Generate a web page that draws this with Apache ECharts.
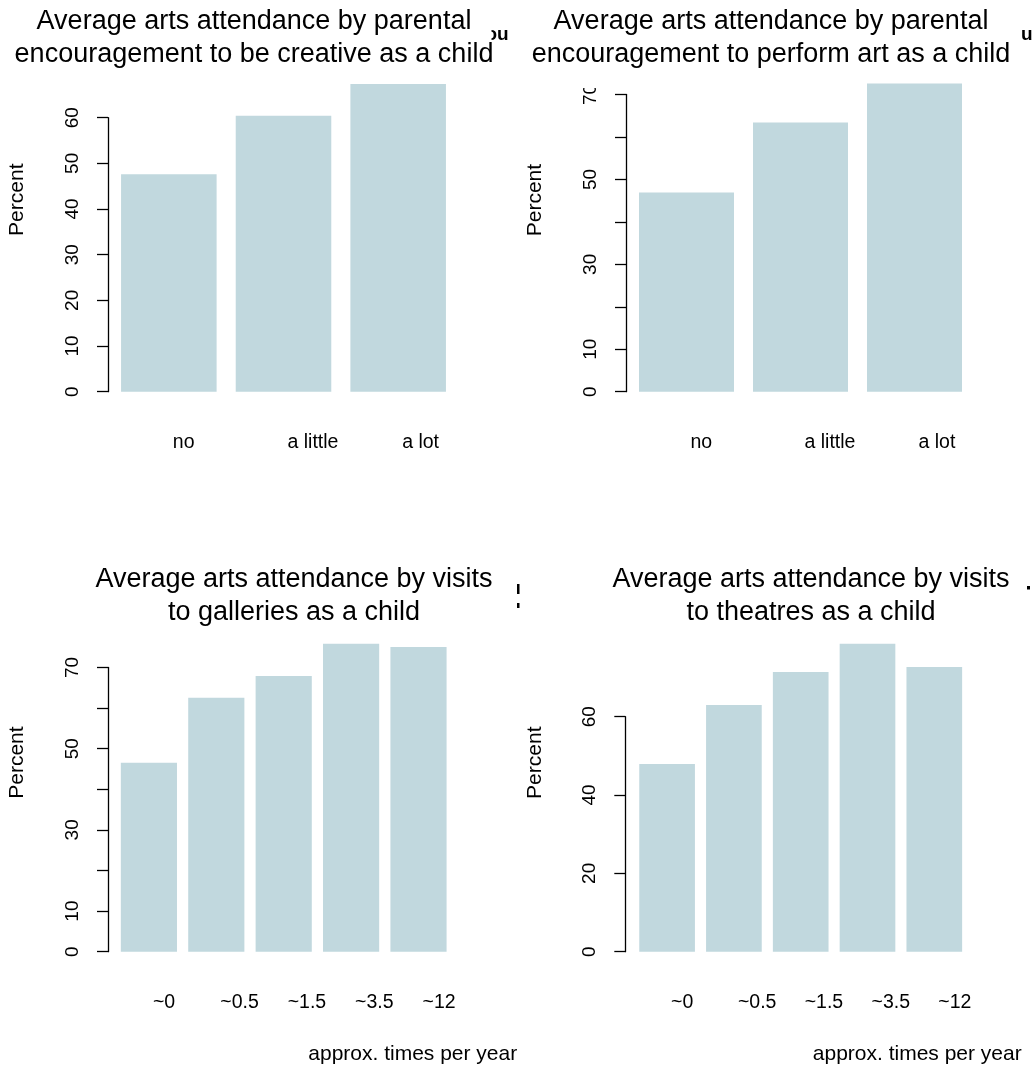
<!DOCTYPE html>
<html>
<head>
<meta charset="utf-8">
<title>Average arts attendance</title>
<script src="https://cdn.jsdelivr.net/npm/echarts@6.0.0/dist/echarts.min.js"></script>
<style>
  html, body { margin: 0; padding: 0; background: #fff; }
  #chart { width: 1035px; height: 1070px; }
</style>
</head>
<body>
<div id="chart"></div>
<script>
// categories
const encouragementCategories = ['no', 'a little', 'a lot'];
const visitCategories = ['~0', '~0.5', '~1.5', '~3.5', '~12'];

// percent attending
const creativeValues = [47.6, 60.4, 67.4];
const performValues = [46.9, 63.4, 72.6];
const galleryValues = [46.5, 62.5, 67.9, 75.8, 75.0];
const theatreValues = [47.9, 63.0, 71.4, 78.6, 72.7];

// y tick labels that are actually printed (R drops the crowded ones)
const creativeTickLabels = [0, 10, 20, 30, 40, 50, 60];
const performTickLabels = [0, 10, 30, 50, 70];
const galleryTickLabels = [0, 10, 30, 50, 70];
const theatreTickLabels = [0, 20, 40, 60];

const titleTexts = [
  'Average arts attendance by parental\nencouragement to be creative as a child',
  'Average arts attendance by parental\nencouragement to perform art as a child',
  'Average arts attendance by visits\nto galleries as a child',
  'Average arts attendance by visits\nto theatres as a child'
];
const xAxisTitle = 'approx. times per year';

const FONT = "'Liberation Sans', Arial, Helvetica, sans-serif";
const BAR_COLOR = '#c1d8de';

const panels = [
  { cats: encouragementCategories, values: creativeValues, ticks: creativeTickLabels, step: 10,
    grid: { left: 111.5, top: 117.7, width: 344, height: 274 }, offset: 3.5,
    titleX: 254, titleTop: 5, nameShift: 55, xName: '' },
  { cats: encouragementCategories, values: performValues, ticks: performTickLabels, step: 10,
    grid: { left: 629.5, top: 94.5, width: 342, height: 297.2 }, offset: 3.5,
    titleX: 771, titleTop: 5, nameShift: 43, xName: '' },
  { cats: visitCategories, values: galleryValues, ticks: galleryTickLabels, step: 10,
    grid: { left: 115.2, top: 667.4, width: 337, height: 284.3 }, offset: 7.2,
    titleX: 294, titleTop: 563, nameShift: 47, xName: xAxisTitle, xNameGap: 65 },
  { cats: visitCategories, values: theatreValues, ticks: theatreTickLabels, step: 20,
    grid: { left: 633.7, top: 716.7, width: 334, height: 235 }, offset: 8.4,
    titleX: 811, titleTop: 563, nameShift: 71.5, xName: xAxisTitle, xNameGap: 54 }
];

const chart = echarts.init(document.getElementById('chart'), null, { renderer: 'canvas' });

const option = {
  animation: false,
  backgroundColor: '#fff',
  textStyle: { fontFamily: FONT, color: '#000' },
  title: panels.map((p, i) => ({
    text: titleTexts[i],
    left: p.titleX,
    top: p.titleTop,
    padding: 0,
    textAlign: 'center',
    textStyle: { fontFamily: FONT, fontSize: 27, lineHeight: 33, fontWeight: 'normal', color: '#000' }
  })),
  grid: panels.map(p => ({
    left: p.grid.left, top: p.grid.top, width: p.grid.width, height: p.grid.height,
    containLabel: false, outerBoundsMode: 'none'
  })),
  xAxis: panels.map((p, i) => ({
    type: 'category',
    gridIndex: i,
    data: p.cats,
    axisLine: { show: false },
    axisTick: { show: false },
    axisLabel: { interval: 0, align: 'left', margin: 41, fontSize: 19.5, color: '#000', fontFamily: FONT, padding: [0, 0, 0, 4] },
    name: p.xName,
    nameLocation: 'end',
    nameGap: p.xNameGap || 0,
    nameTextStyle: { fontSize: 21, color: '#000', fontFamily: FONT, align: 'right', verticalAlign: 'top', padding: [92, 0, 0, 0] },
    splitLine: { show: false }
  })),
  yAxis: panels.map((p, i) => ({
    type: 'value',
    gridIndex: i,
    min: 0,
    max: Math.max(...p.ticks),
    interval: p.step,
    offset: p.offset,
    axisLine: { show: true, lineStyle: { color: '#000', width: 1.3 } },
    axisTick: { show: true, inside: false, length: 11, lineStyle: { color: '#000', width: 1.3 } },
    axisLabel: {
      customValues: p.ticks,
      rotate: 90,
      margin: 26,
      fontSize: 19,
      color: '#000',
      fontFamily: FONT,
      showMinLabel: true,
      showMaxLabel: true
    },
    splitLine: { show: false },
    name: 'Percent',
    nameLocation: 'middle',
    nameGap: 80,
    nameTextStyle: { fontSize: 21, color: '#000', fontFamily: FONT, padding: [0, 0, 0, p.nameShift * 2] }
  })),
  series: panels.map((p, i) => ({
    type: 'bar',
    xAxisIndex: i,
    yAxisIndex: i,
    data: p.values,
    barCategoryGap: '16.67%',
    clip: false,
    silent: true,
    itemStyle: { color: BAR_COLOR },
    emphasis: { disabled: true }
  })),
  // stray bits of overlapping headings visible in the original
  graphic: [
    { type: 'text', z: 100, x: 485.5, y: 35, style: { text: 'ou', font: 'bold 19px ' + FONT, fill: '#000', verticalAlign: 'middle' } },
    { type: 'rect', z: 101, shape: { x: 480, y: 27, width: 11.5, height: 15 }, style: { fill: '#fff' } },
    { type: 'text', z: 100, x: 1021, y: 35, style: { text: 'u', font: 'bold 19px ' + FONT, fill: '#000', verticalAlign: 'middle' } },
    { type: 'rect', z: 100, shape: { x: 517, y: 584, width: 2.5, height: 10 }, style: { fill: '#000' } },
    { type: 'rect', z: 100, shape: { x: 517, y: 603, width: 2.5, height: 5 }, style: { fill: '#000' } },
    { type: 'rect', z: 100, shape: { x: 1027, y: 586, width: 3, height: 3.5 }, style: { fill: '#000' } },
    // the top of the "70" label on the second panel is hidden in the original
    { type: 'rect', z: 100, shape: { x: 578, y: 72, width: 26, height: 16 }, style: { fill: '#fff' } }
  ]
};

chart.setOption(option);
</script>
</body>
</html>
